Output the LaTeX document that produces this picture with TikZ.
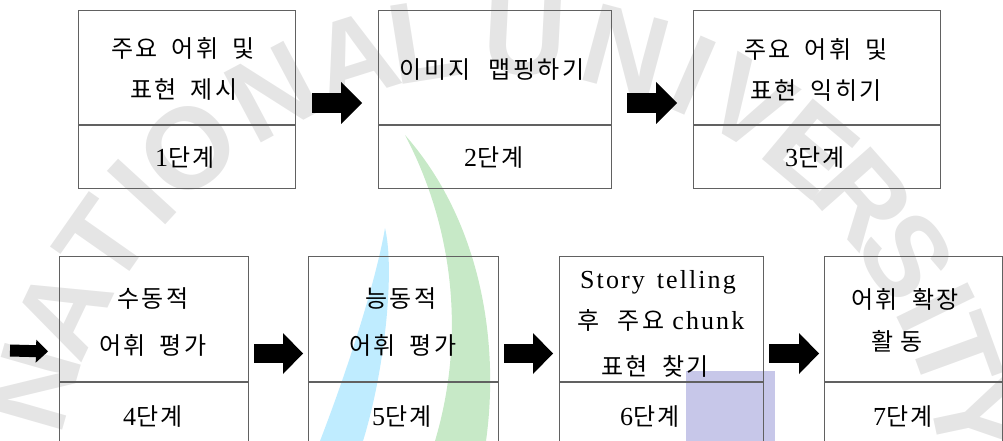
\documentclass[tikz,border=0pt]{standalone}
\usepackage{fontspec}
\setmainfont{Liberation Serif}[LetterSpace=8]
\newfontfamily\kr{Noto Sans CJK KR}[LetterSpace=10]
\newfontfamily\wmf{Liberation Sans}
\usetikzlibrary{arrows.meta}
\newcommand\K[1]{{\kr #1}}
\newcommand\Lt[1]{{\fontsize{26}{30}\selectfont #1}}
\newcommand\ks{\hspace{14pt}}
\begin{document}
\begin{tikzpicture}[x=1pt,y=-1pt,
  frame/.style={draw=black!62, line width=1pt, inner sep=0pt, anchor=north west},
  lower/.style={draw=black!62, line width=1pt, inner sep=0pt, anchor=north},
  kt/.style={inner sep=0pt, text height=19pt, text depth=2pt, font=\fontsize{24}{28}\selectfont},
  wm/.style={text=black!10, inner sep=0pt, font=\fontsize{115}{115}\selectfont\wmf\bfseries},
  bigarrow/.style={line width=20pt, -{Triangle[length=21pt,width=42pt,line width=0pt]}},
  midarrow/.style={line width=19pt, -{Triangle[length=20pt,width=41pt,line width=0pt]}},
  smallarrow/.style={line width=12pt, -{Triangle[length=12pt,width=23pt,line width=0pt]}}]
\useasboundingbox (0,0) rectangle (1003,441);
\clip (0,0) rectangle (1003,441);
% watermark
\fill[blue!30!cyan!25] (385,228) .. controls (395,270) and (385,370) .. (363,441)
  -- (320,441) .. controls (355,350) and (378,270) .. (385,228) -- cycle;
\fill[green!60!black!22] (405,135) .. controls (480,220) and (500,340) .. (486,441)
  -- (435,441) .. controls (465,340) and (455,230) .. (405,135) -- cycle;
\fill[blue!60!black!22] (686,371) rectangle (775,441);
\foreach \l/\a [count=\i] in {N/-74, A/-64.5, T/-55, I/-47.5, O/-40, N/-28, A/-17.5, L/-9, U/3, N/15, I/23.5, V/31, E/40, R/48.5, S/57, I/64, T/70, Y/78}
  \node[wm, rotate=-\a] (wm\i) at ({500+485*sin(\a)},{520-485*cos(\a)}) {\l};
% top row
\node[frame, minimum width=217pt, minimum height=114pt] (t1) at (78,10) {};
\node[lower, minimum width=217pt, minimum height=63pt] (b1) at (t1.south) {};
\node[frame, minimum width=233pt, minimum height=114pt] (t2) at (378,10) {};
\node[lower, minimum width=233pt, minimum height=63pt] (b2) at (t2.south) {};
\node[frame, minimum width=247pt, minimum height=114pt] (t3) at (693,10) {};
\node[lower, minimum width=247pt, minimum height=63pt] (b3) at (t3.south) {};
% bottom row
\node[frame, minimum width=189pt, minimum height=125pt] (t4) at (59,256) {};
\node[lower, minimum width=189pt, minimum height=63pt] (b4) at (t4.south) {};
\node[frame, minimum width=190pt, minimum height=125pt] (t5) at (308,256) {};
\node[lower, minimum width=190pt, minimum height=63pt] (b5) at (t5.south) {};
\node[frame, minimum width=204pt, minimum height=125pt] (t6) at (559,256) {};
\node[lower, minimum width=204pt, minimum height=63pt] (b6) at (t6.south) {};
\node[frame, minimum width=178pt, minimum height=125pt] (t7) at (824,256) {};
\node[lower, minimum width=178pt, minimum height=63pt] (b7) at (t7.south) {};
% texts
\node[kt] (t1a) at (183,49) {\K{주요\ks 어휘\ks 및}};
\node[kt] (t1b) at (184,90) {\K{표현\ks 제시}};
\node[kt] (b1t) at (185,158) {\Lt{1}\K{단계}};
\node[kt] (t2a) at (492,70) {\K{이미지\hspace{18pt}맵핑하기}};
\node[kt] (b2t) at (494,158) {\Lt{2}\K{단계}};
\node[kt] (t3a) at (816,50) {\K{주요\ks 어휘\ks 및}};
\node[kt] (t3b) at (816,91) {\K{표현\ks 익히기}};
\node[kt] (b3t) at (815,158) {\Lt{3}\K{단계}};
\node[kt] (t4a) at (153,299) {\K{수동적}};
\node[kt] (t4b) at (153,346) {\K{어휘\ks 평가}};
\node[kt] (b4t) at (153,417) {\Lt{4}\K{단계}};
\node[kt] (t5a) at (401,299) {\K{능동적}};
\node[kt] (t5b) at (403,346) {\K{어휘\ks 평가}};
\node[kt] (b5t) at (402,417) {\Lt{5}\K{단계}};
\node[kt] (t6a) at (658,280) {\Lt{Story\hspace{12pt}telling}};
\node[kt] (t6b) at (661,321) {\K{후\hspace{18pt}주요}\hspace{8pt}\Lt{chunk}};
\node[kt] (t6c) at (655,367) {\K{표현\ks 찾기}};
\node[kt] (b6t) at (650,417) {\Lt{6}\K{단계}};
\node[kt] (t7a) at (905,300) {\K{어휘\ks 확장}};
\node[kt] (t7b) at (897,342) {\K{활\hspace{6pt}동}};
\node[kt] (b7t) at (903,417) {\Lt{7}\K{단계}};
% arrows
\draw[bigarrow] ([xshift=16pt,yshift=22pt]t1.south east) -- ([xshift=-16pt,yshift=22pt]t2.south west);
\draw[bigarrow] ([xshift=15pt,yshift=22pt]t2.south east) -- ([xshift=-16pt,yshift=22pt]t3.south west);
\coordinate (s0) at (10,350.5);
\draw[smallarrow] (s0) -- ([xshift=-11pt,yshift=30.5pt]t4.south west);
\draw[midarrow] ([xshift=5pt,yshift=28.5pt]t4.south east) -- ([xshift=-5pt,yshift=28.5pt]t5.south west);
\draw[midarrow] ([xshift=5pt,yshift=28.5pt]t5.south east) -- ([xshift=-6pt,yshift=28.5pt]t6.south west);
\draw[midarrow] ([xshift=5pt,yshift=28.5pt]t6.south east) -- ([xshift=-5pt,yshift=28.5pt]t7.south west);
\end{tikzpicture}
\end{document}
